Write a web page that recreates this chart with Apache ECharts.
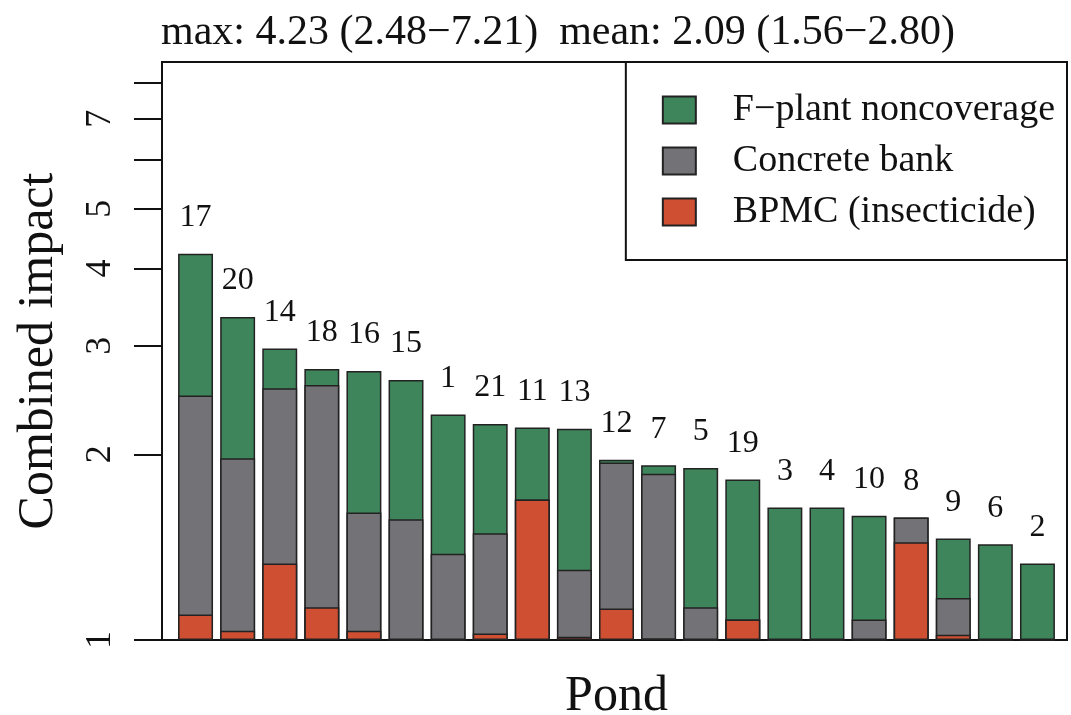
<!DOCTYPE html>
<html>
<head>
<meta charset="utf-8">
<script src="https://cdn.jsdelivr.net/npm/echarts@6/dist/echarts.min.js"></script>
<style>html,body{margin:0;padding:0;background:#fff}#c{width:1071px;height:715px}</style>
</head>
<body>
<div id="c"></div>
<script>
// Pond IDs (x categories), ordered as in the figure
const ponds = ['17','20','14','18','16','15','1','21','11','13','12','7','5','19','3','4','10','8','9','6','2'];
// Cumulative top of each stacked segment (log-scale, multiplicative impacts)
const fplantTop   = [4.23,3.34,2.97,2.75,2.73,2.64,2.32,2.24,2.21,2.20,1.96,1.92,1.90,1.82,1.64,1.64,1.59,1.58,1.46,1.43,1.33];
const concreteTop = [2.49,1.97,2.56,2.59,1.61,1.57,1.38,1.49,1.69,1.30,1.94,1.86,1.13,1.08,1.00,1.00,1.08,1.58,1.17,1.00,1.00];
const bpmcTop     = [1.10,1.035,1.33,1.13,1.035,1.00,1.00,1.025,1.69,1.012,1.125,1.006,1.00,1.08,1.00,1.00,1.00,1.44,1.02,1.00,1.00];
const seriesNames = ['F\u2212plant noncoverage','Concrete bank','BPMC (insecticide)'];
const yTickValues = [1,2,3,4,5,6,7,8];
const yLabelValues = [1,2,3,4,5,7];
const titleText = 'max: 4.23 (2.48\u22127.21)  mean: 2.09 (1.56\u22122.80)';

const FONT = "'Liberation Serif','Times New Roman',serif";
const INK = '#111';
const colors = ['#3e855b','#737377','#cf4f33'];

const chart = echarts.init(document.getElementById('c'), null, {renderer:'canvas'});
function barSeries(name, data, color, withLabel) {
  return {
    name: name, type: 'bar', xAxisIndex: 0, yAxisIndex: 0,
    data: data, barWidth: '83%', barGap: '-100%',
    itemStyle: {color: color, borderColor: '#222', borderWidth: 1.5},
    label: withLabel ? {show: true, position: 'top', distance: 20, formatter: '{b}',
      fontFamily: FONT, fontSize: 32, color: INK} : {show: false},
    emphasis: {disabled: true}
  };
}
chart.setOption({
  animation: false,
  backgroundColor: '#fff',
  title: {text: titleText, left: 161, top: 12, padding: 0,
    textStyle: {fontFamily: FONT, fontSize: 42, fontWeight: 'normal', color: INK}},
  legend: {orient: 'vertical', top: 62, right: 4, icon: 'rect', itemWidth: 33, itemHeight: 27,
    itemGap: 13, padding: [29, 12, 29, 36], borderColor: INK, borderWidth: 2, backgroundColor: '#fff',
    textStyle: {fontFamily: FONT, fontSize: 38, color: INK, padding: [0, 0, 0, 32]},
    data: seriesNames},
  grid: [
    {left: 162, right: 4, top: 62, bottom: 75, show: true, borderColor: INK, borderWidth: 2,
      backgroundColor: 'transparent', outerBoundsMode: 'none', containLabel: false},
    {left: 174.5, right: 12.5, top: 62, bottom: 75, outerBoundsMode: 'none', containLabel: false}
  ],
  xAxis: [{gridIndex: 1, type: 'category', data: ponds,
    axisLine: {show: false}, axisTick: {show: false}, axisLabel: {show: false},
    name: 'Pond', nameLocation: 'middle', nameGap: 32,
    nameTextStyle: {fontFamily: FONT, fontSize: 50, color: INK}}],
  yAxis: [{gridIndex: 1, type: 'log', logBase: 10, min: 1, max: 8.65, offset: 12.5,
    axisLine: {show: true, lineStyle: {color: INK, width: 2}},
    axisTick: {show: true, length: 28, lineStyle: {color: INK, width: 2}, customValues: yTickValues},
    axisLabel: {customValues: yLabelValues, rotate: 90, margin: 43, fontFamily: FONT, fontSize: 36, color: INK},
    splitLine: {show: false},
    name: 'Combined impact', nameLocation: 'middle', nameGap: 98, nameRotate: 90,
    nameTextStyle: {fontFamily: FONT, fontSize: 50, color: INK}}],
  series: [
    barSeries(seriesNames[0], fplantTop, colors[0], true),
    barSeries(seriesNames[1], concreteTop, colors[1], false),
    barSeries(seriesNames[2], bpmcTop, colors[2], false)
  ]
});
</script>
</body>
</html>
